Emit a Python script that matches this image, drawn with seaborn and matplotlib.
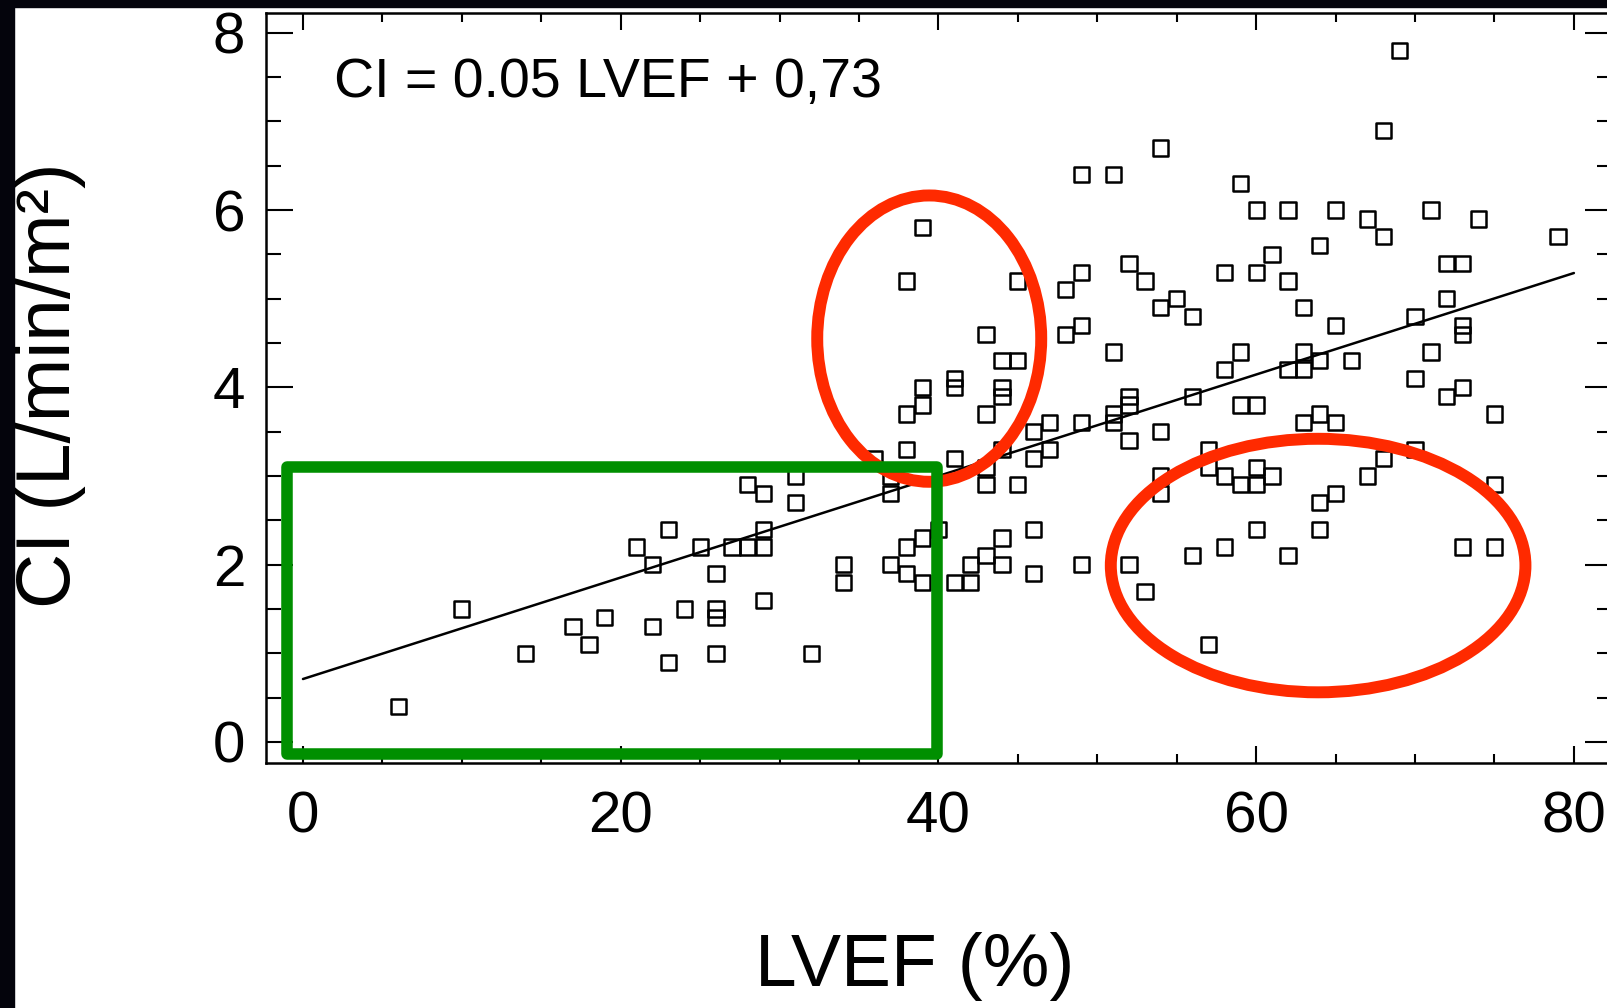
import matplotlib
matplotlib.use("Agg")
import matplotlib.pyplot as plt
import seaborn as sns
import pandas as pd
from matplotlib.patches import Ellipse, Rectangle
from matplotlib.ticker import MultipleLocator

# points (LVEF in %, CI in L/min/m2)
lvef = [6, 10, 14, 17, 18, 19, 21, 22, 22, 23, 23, 24, 25,
        26, 26, 26, 26, 27, 28, 28, 29, 29, 29, 29, 31, 31, 32,
        34, 34, 36, 37, 37, 37, 38, 38, 38, 38, 38, 39, 39, 39, 39, 39,
        40, 41, 41, 41, 41, 42, 42, 43, 43, 43, 43, 43,
        44, 44, 44, 44, 44, 44, 45, 45, 45, 46, 46, 46, 46, 47, 47,
        48, 48, 49, 49, 49, 49, 49, 51, 51, 51, 51,
        52, 52, 52, 52, 52, 53, 53, 54, 54, 54, 54, 54, 55,
        56, 56, 56, 57, 57, 57, 58, 58, 58, 58, 59, 59, 59, 59,
        60, 60, 60, 60, 60, 60, 61, 61, 62, 62, 62, 62,
        63, 63, 63, 63, 64, 64, 64, 64, 64, 65, 65, 65, 65, 66,
        67, 67, 68, 68, 68, 69, 70, 70, 70, 71, 71, 72, 72, 72,
        73, 73, 73, 73, 73, 74, 75, 75, 75, 79]
ci = [0.4, 1.5, 1.0, 1.3, 1.1, 1.4, 2.2, 2.0, 1.3, 2.4, 0.9, 1.5, 2.2,
      1.9, 1.5, 1.4, 1.0, 2.2, 2.2, 2.9, 2.2, 2.4, 2.8, 1.6, 3.0, 2.7, 1.0,
      2.0, 1.8, 3.2, 3.0, 2.8, 2.0, 5.2, 3.7, 3.3, 2.2, 1.9, 5.8, 4.0, 3.8, 2.3, 1.8,
      2.4, 4.1, 4.0, 3.2, 1.8, 2.0, 1.8, 4.6, 3.7, 3.1, 2.9, 2.1,
      4.3, 4.0, 3.9, 3.3, 2.3, 2.0, 5.2, 4.3, 2.9, 3.5, 3.2, 2.4, 1.9, 3.6, 3.3,
      5.1, 4.6, 6.4, 5.3, 4.7, 3.6, 2.0, 6.4, 4.4, 3.7, 3.6,
      5.4, 3.9, 3.8, 3.4, 2.0, 5.2, 1.7, 6.7, 4.9, 3.5, 3.0, 2.8, 5.0,
      4.8, 3.9, 2.1, 3.3, 3.1, 1.1, 5.3, 4.2, 3.0, 2.2, 6.3, 4.4, 3.8, 2.9,
      6.0, 5.3, 3.8, 3.1, 2.9, 2.4, 5.5, 3.0, 6.0, 5.2, 4.2, 2.1,
      4.9, 4.4, 4.2, 3.6, 5.6, 4.3, 3.7, 2.7, 2.4, 6.0, 4.7, 3.6, 2.8, 4.3,
      5.9, 3.0, 6.9, 5.7, 3.2, 7.8, 4.8, 4.1, 3.3, 6.0, 4.4, 5.4, 5.0, 3.9,
      5.4, 4.7, 4.6, 4.0, 2.2, 5.9, 3.7, 2.9, 2.2, 5.7]

# regression line as drawn in the figure
fit_lvef = [0, 80]
fit_ci = [0.71, 5.29]

equation = "CI = 0.05 LVEF + 0,73"
x_label = "LVEF (%)"
y_label = "CI (L/min/m²)"
x_ticks = [0, 20, 40, 60, 80]
y_ticks = [0, 2, 4, 6, 8]

sns.set_style("ticks")
plt.rcParams["font.family"] = ["Liberation Sans", "DejaVu Sans"]
plt.rcParams["text.color"] = "black"
plt.rcParams["axes.labelcolor"] = "black"
plt.rcParams["xtick.color"] = "black"
plt.rcParams["ytick.color"] = "black"

df = pd.DataFrame({"LVEF": lvef, "CI": ci})

fig = plt.figure(figsize=(16.08, 10.08), dpi=100)
ax = fig.add_axes([0.1654, 0.2431, 0.8371, 0.7437])

sns.scatterplot(data=df, x="LVEF", y="CI", marker="s", s=120,
                facecolor="none", edgecolor="black", linewidth=1.8,
                ax=ax, zorder=3)
sns.lineplot(x=fit_lvef, y=fit_ci, color="black", linewidth=1.8, ax=ax)

ax.set_xlim(-2.33, 82.4)
ax.set_ylim(-0.237, 8.22)
ax.set_xticks(x_ticks)
ax.set_yticks(y_ticks)
ax.xaxis.set_minor_locator(MultipleLocator(5))
ax.yaxis.set_minor_locator(MultipleLocator(0.5))

ax.tick_params(which="both", direction="in", top=True, right=True,
               width=1.5, color="black", labelcolor="black")
ax.tick_params(axis="x", which="major", length=12.5, pad=20, labelsize=42)
ax.tick_params(axis="x", which="minor", length=6.5)
ax.tick_params(axis="y", which="major", length=19.5, pad=15, labelsize=42)
ax.tick_params(axis="y", which="minor", length=11)
for s in ax.spines.values():
    s.set_linewidth(1.8)
    s.set_color("black")

ax.set_xlabel(x_label, fontsize=54)
ax.xaxis.label.set_va("baseline")
ax.xaxis.set_label_coords(0.482, -0.298)
ax.set_ylabel(y_label, fontsize=55)
ax.yaxis.label.set_va("center")
ax.yaxis.set_label_coords(-0.1597, 0.504)

ax.text(1.95, 7.43, equation, fontsize=40, ha="left", va="center")

# highlight marks added on the slide
ax.add_patch(Ellipse((39.42, 4.55), 14.1, 3.23, fill=False,
                     edgecolor="#ff2a00", linewidth=8.6, zorder=5))
ax.add_patch(Ellipse((63.9, 1.99), 26.1, 2.86, fill=False,
                     edgecolor="#ff2a00", linewidth=8.6, zorder=5))
ax.add_patch(Rectangle((-1.01, -0.135), 40.9, 3.233, fill=False,
                       edgecolor="#008f00", linewidth=8.3, zorder=5,
                       joinstyle="round"))

# dark slide border at left and top
fig.add_artist(Rectangle((0, 0), 14 / 1608, 1, transform=fig.transFigure,
                         color="#04040c", zorder=10))
fig.add_artist(Rectangle((0, 1 - 7 / 1008), 1, 7 / 1008,
                         transform=fig.transFigure, color="#04040c", zorder=10))

fig.savefig("out.png", dpi=100)
